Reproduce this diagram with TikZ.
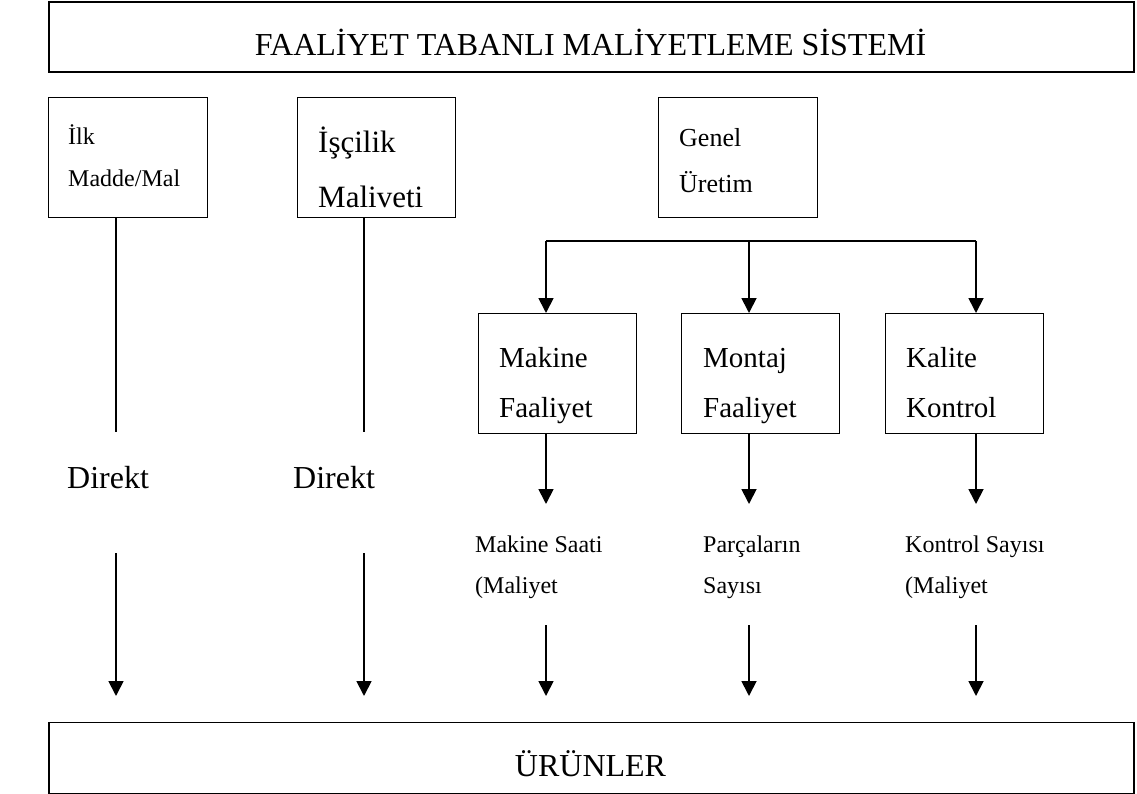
\documentclass[tikz,border=0pt]{standalone}
\usepackage{fontspec}
\setmainfont{Liberation Serif}
\usetikzlibrary{arrows.meta}
\begin{document}
\begin{tikzpicture}[x=1pt,y=-1pt,
  box/.style={draw, line width=1.4pt, inner sep=0pt, anchor=north west},
  bigbox/.style={draw, line width=1.9pt, inner sep=0pt, anchor=north west},
  lbl/.style={anchor=base west, inner sep=0pt},
  f24/.style={font=\fontsize{24}{24}\selectfont},
  f26/.style={font=\fontsize{26}{26}\selectfont},
  f29/.style={font=\fontsize{29}{29}\selectfont},
  f31/.style={font=\fontsize{31}{31}\selectfont},
  f32/.style={font=\fontsize{32}{32}\selectfont},
  ln/.style={line width=1.3pt},
  arr/.style={line width=1.8pt, -{Triangle[width=15pt,length=15pt]}},
  blank/.style={fill=white, inner sep=0pt, anchor=north west}]
\useasboundingbox (0,0) rectangle (1137,794);

% main boxes
\node[bigbox, minimum width=1085pt, minimum height=70pt] (top) at (48,1.5) {};
\node[lbl, f32, anchor=base] (title) at (590.5,56) {FAALİYET TABANLI MALİYETLEME SİSTEMİ};
\node[bigbox, minimum width=1085pt, minimum height=71pt] (urun) at (48,721.5) {};
\node[lbl, f32, anchor=base] (urunt) at (590.5,776) {ÜRÜNLER};

% input boxes
\node[box, minimum width=159pt, minimum height=120pt] (ilk) at (48,97) {};
\node[lbl, f24] (ilk1) at (68,145) {İlk};
\node[lbl, f24] (ilk2) at (68,187) {Madde/Mal};
\node[box, minimum width=158pt, minimum height=120pt] (isc) at (297,97) {};
\node[lbl, f31] (isc1) at (318,153) {İşçilik};
\node[lbl, f31] (isc2) at (318,208) {Maliveti};
\node[box, minimum width=159pt, minimum height=120pt] (gen) at (658,97) {};
\node[lbl, f26] (gen1) at (679,147) {Genel};
\node[lbl, f26] (gen2) at (679,193) {Üretim};

% activity boxes
\node[box, minimum width=158pt, minimum height=120pt] (mak) at (478,313) {};
\node[lbl, f29] (mak1) at (499,367) {Makine};
\node[lbl, f29] (mak2) at (499,417) {Faaliyet};
\node[box, minimum width=158pt, minimum height=120pt] (mon) at (681,313) {};
\node[lbl, f29] (mon1) at (703,367) {Montaj};
\node[lbl, f29] (mon2) at (703,417) {Faaliyet};
\node[box, minimum width=158pt, minimum height=120pt] (kal) at (885,313) {};
\node[lbl, f29] (kal1) at (906,367) {Kalite};
\node[lbl, f29] (kal2) at (906,417) {Kontrol};

% Direkt labels (white text boxes)
\node[blank, minimum width=147pt, minimum height=121pt] (d1) at (60,432) {};
\node[lbl, f32] (d1t) at (67,488) {Direkt};
\node[blank, minimum width=159pt, minimum height=121pt] (d2) at (274,432) {};
\node[lbl, f32] (d2t) at (293,488) {Direkt};

% driver labels
\node[blank, minimum width=161pt, minimum height=118pt] (c1) at (475,506) {};
\node[lbl, f24] (c1a) at (475,552) {Makine Saati};
\node[lbl, f24] (c1b) at (475,593) {(Maliyet};
\node[blank, minimum width=182pt, minimum height=118pt] (c2) at (681,506) {};
\node[lbl, f24] (c2a) at (703,552) {Parçaların};
\node[lbl, f24] (c2b) at (703,593) {Sayısı};
\node[lbl, f24] (c3a) at (905,552) {Kontrol Sayısı};
\node[lbl, f24] (c3b) at (905,593) {(Maliyet};

% coordinates
\coordinate (bl) at (546,241);
\coordinate (bm) at (749,241);
\coordinate (br) at (976,241);
\coordinate (x1) at (116,0);
\coordinate (x2) at (364,0);
\coordinate (y1) at (0,504);
\coordinate (y2) at (0,625);
\coordinate (y3) at (0,696);

% direct lines
\draw[ln] (x1 |- ilk.south) -- (x1 |- d1.north);
\draw[arr] (x1 |- d1.south) -- (x1 |- y3);
\draw[ln] (x2 |- isc.south) -- (x2 |- d2.north);
\draw[arr] (x2 |- d2.south) -- (x2 |- y3);

% bracket
\draw[line width=1.8pt] (bl) -- (br);
\draw[arr] (bl) -- (bl |- mak.north);
\draw[arr] (bm) -- (bm |- mon.north);
\draw[arr] (br) -- (br |- kal.north);

% activity outputs
\draw[arr] (bl |- mak.south) -- (bl |- y1);
\draw[arr] (bm |- mon.south) -- (bm |- y1);
\draw[arr] (br |- kal.south) -- (br |- y1);
\draw[arr] (bl |- y2) -- (bl |- y3);
\draw[arr] (bm |- y2) -- (bm |- y3);
\draw[arr] (br |- y2) -- (br |- y3);
\end{tikzpicture}
\end{document}
